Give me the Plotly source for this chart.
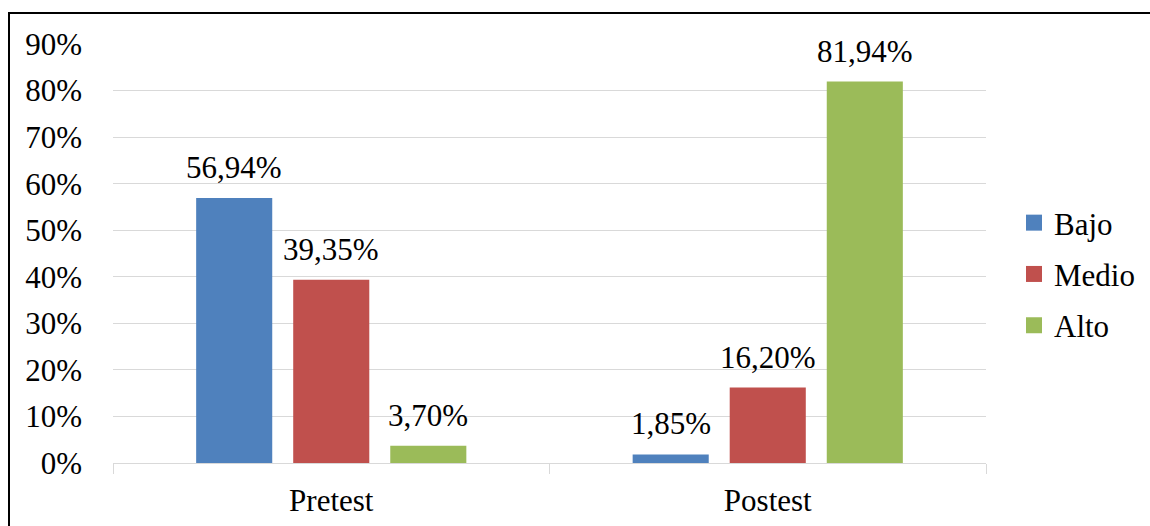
import plotly.graph_objects as go

categories = ["Pretest", "Postest"]
series_names = ["Bajo", "Medio", "Alto"]
bajo = [56.94, 1.85]
medio = [39.35, 16.20]
alto = [3.70, 81.94]
y_ticks = [0, 10, 20, 30, 40, 50, 60, 70, 80, 90]
y_tick_labels = [f"{t}%" for t in y_ticks]

colors = ["#4f81bd", "#c0504d", "#9bbb59"]
font_family = "Liberation Serif"
font_size = 31

W, H = 1150, 526
L, R, T, B = 113, 164, 44, 63
pw, ph = W - L - R, H - T - B

fig = go.Figure()
series = [bajo, medio, alto]
for i, (name, vals) in enumerate(zip(series_names, series)):
    fig.add_trace(go.Bar(
        x=categories, y=vals, name=name,
        marker=dict(color=colors[i], line=dict(width=0)),
        showlegend=False, legendgroup=name,
    ))
# legend entries with larger square swatches
for i, name in enumerate(series_names):
    fig.add_trace(go.Scatter(
        x=[None], y=[None], mode="markers", name=name, legendgroup=name,
        marker=dict(symbol="square", size=16, color=colors[i]),
    ))

# value labels above each bar
bargap = 0.333
slot = (1 - bargap) / 3
annotations = []
for i, vals in enumerate(series):
    for j, v in enumerate(vals):
        annotations.append(dict(
            x=j + (i - 1) * slot, y=v, xref="x", yref="y",
            text=f"{v:.2f}%".replace(".", ","),
            showarrow=False, yanchor="bottom", yshift=11,
            font=dict(family=font_family, size=font_size, color="#000000"),
        ))

def px_x(p):
    return (p - L) / pw

def px_y(p):
    return (H - B - p) / ph

fig.update_layout(
    width=W, height=H,
    margin=dict(l=L, r=R, t=T, b=B, autoexpand=False),
    paper_bgcolor="white", plot_bgcolor="white",
    barmode="group", bargap=bargap, bargroupgap=0.216,
    font=dict(family=font_family, size=font_size, color="#000000"),
    annotations=annotations,
    legend=dict(x=px_x(1014), xanchor="left", y=px_y(274), yanchor="middle",
                tracegroupgap=8, itemsizing="trace",
                font=dict(family=font_family, size=font_size, color="#000000")),
    shapes=[dict(type="rect", xref="paper", yref="paper",
                 x0=px_x(9), x1=px_x(1170), y0=px_y(540), y1=px_y(13),
                 line=dict(color="#000000", width=2), layer="above")],
    xaxis=dict(
        type="category", showgrid=False, automargin=False,
        showline=True, linecolor="#d9d9d9", linewidth=1,
        ticks="outside", tickson="boundaries", ticklen=10, tickcolor="#d9d9d9",
        ticklabelstandoff=10,
        tickfont=dict(family=font_family, size=font_size, color="#000000"),
    ),
    yaxis=dict(
        range=[0, 90], tickmode="array", tickvals=y_ticks, ticktext=y_tick_labels,
        showgrid=True, gridcolor="#d9d9d9", gridwidth=1, automargin=False,
        zeroline=False, showline=False, ticks="",
        ticklabelstandoff=30,
        tickfont=dict(family=font_family, size=font_size, color="#000000"),
    ),
)

fig.write_html("out.html")
